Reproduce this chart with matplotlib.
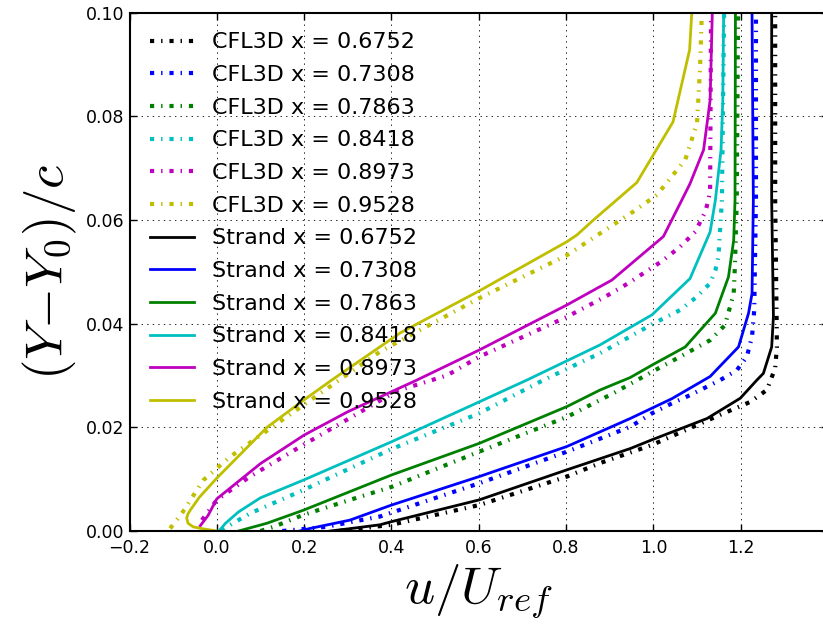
import matplotlib
matplotlib.use("Agg")
import matplotlib.pyplot as plt
import numpy as np

plt.rcParams['mathtext.fontset'] = 'cm'
plt.rcParams['lines.scale_dashes'] = False
plt.rcParams['font.family'] = ['DejaVu Sans']

stations = ['0.6752', '0.7308', '0.7863', '0.8418', '0.8973', '0.9528']
colors = ['k', 'b', 'g', 'c', 'm', 'y']

# CFL3D profiles (u/Uref, (Y-Y0)/c)
cfl_u_6752 = [0.28, 0.40, 0.601, 0.802, 0.878, 0.997, 1.153, 1.222, 1.26, 1.279, 1.283, 1.281, 1.279, 1.279]
cfl_y_6752 = [0.0, 0.0012, 0.005, 0.0105, 0.0131, 0.0166, 0.0224, 0.0249, 0.0272, 0.0314, 0.0355, 0.05, 0.0638, 0.1]
cfl_u_7308 = [0.15, 0.25, 0.374, 0.601, 0.802, 0.947, 0.997, 1.042, 1.084, 1.153, 1.191, 1.214, 1.226, 1.231, 1.235, 1.235]
cfl_y_7308 = [0.0, 0.0008, 0.0028, 0.0092, 0.0153, 0.0201, 0.0227, 0.0246, 0.0262, 0.0291, 0.031, 0.0336, 0.0375, 0.0426, 0.0638, 0.1]
cfl_u_7863 = [0.10, 0.13, 0.198, 0.305, 0.40, 0.601, 0.802, 0.909, 0.997, 1.061, 1.13, 1.164, 1.184, 1.187, 1.191, 1.194]
cfl_y_7863 = [0.0, 0.0008, 0.0031, 0.006, 0.0085, 0.0153, 0.022, 0.0266, 0.0307, 0.0336, 0.0368, 0.0397, 0.0458, 0.0516, 0.0638, 0.1]
cfl_u_8418 = [0.01, 0.023, 0.076, 0.198, 0.40, 0.601, 0.748, 0.878, 1.0, 1.061, 1.10, 1.13, 1.142, 1.149, 1.157, 1.162]
cfl_y_8418 = [0.0, 0.0008, 0.0034, 0.0079, 0.0158, 0.0227, 0.0291, 0.0343, 0.04, 0.0426, 0.0452, 0.0478, 0.0503, 0.0529, 0.0638, 0.1]
cfl_u_8973 = [-0.034, 0.0, 0.076, 0.20, 0.412, 0.527, 0.601, 0.802, 0.89, 0.943, 0.977, 1.019, 1.061, 1.096, 1.119, 1.126, 1.13, 1.132]
cfl_y_8973 = [0.0021, 0.006, 0.0105, 0.0167, 0.027, 0.030, 0.0336, 0.0413, 0.0452, 0.0478, 0.0497, 0.052, 0.0548, 0.0577, 0.0616, 0.0638, 0.0658, 0.1]
cfl_u_9528 = [-0.107, -0.08, -0.031, 0.03, 0.126, 0.27, 0.374, 0.601, 0.802, 0.954, 1.008, 1.073, 1.10, 1.107, 1.111]
cfl_y_9528 = [0.0005, 0.0034, 0.0098, 0.0143, 0.02, 0.0285, 0.0346, 0.0449, 0.0532, 0.0616, 0.0648, 0.0716, 0.0787, 0.0895, 0.1]

# Strand profiles
str_u_6752 = [0.26, 0.30, 0.374, 0.40, 0.601, 0.802, 0.947, 0.997, 1.123, 1.199, 1.237, 1.252, 1.271, 1.275, 1.271, 1.271]
str_y_6752 = [0.0, 0.0004, 0.0012, 0.0018, 0.006, 0.0118, 0.0159, 0.0176, 0.0217, 0.0256, 0.0291, 0.0304, 0.0355, 0.0413, 0.0638, 0.1]
str_u_7308 = [0.19, 0.214, 0.305, 0.40, 0.601, 0.802, 0.947, 1.042, 1.13, 1.195, 1.218, 1.226, 1.229, 1.226]
str_y_7308 = [0.0, 0.0005, 0.0021, 0.005, 0.0105, 0.0163, 0.0217, 0.0255, 0.0298, 0.0355, 0.042, 0.0458, 0.0638, 0.1]
str_u_7863 = [0.05, 0.115, 0.198, 0.40, 0.601, 0.802, 0.878, 0.947, 0.997, 1.073, 1.142, 1.172, 1.184, 1.187, 1.188]
str_y_7863 = [0.0, 0.0015, 0.004, 0.0108, 0.0169, 0.024, 0.0272, 0.0296, 0.032, 0.0355, 0.042, 0.049, 0.0561, 0.0638, 0.1]
str_u_8418 = [0.005, 0.02, 0.05, 0.10, 0.198, 0.40, 0.601, 0.71, 0.878, 0.997, 1.084, 1.13, 1.142, 1.155, 1.159, 1.161]
str_y_8418 = [0.0, 0.0015, 0.0037, 0.0064, 0.0098, 0.0172, 0.0249, 0.0291, 0.0359, 0.0417, 0.0487, 0.0577, 0.0638, 0.0735, 0.083, 0.1]
str_u_8973 = [-0.038, -0.02, 0.0, 0.10, 0.20, 0.30, 0.458, 0.601, 0.802, 0.905, 1.023, 1.065, 1.084, 1.115, 1.13, 1.135]
str_y_8973 = [0.001, 0.003, 0.0062, 0.013, 0.0185, 0.023, 0.0291, 0.0349, 0.0436, 0.0484, 0.0568, 0.0638, 0.067, 0.0735, 0.0831, 0.1]
str_u_9528 = [0.0, -0.03, -0.054, -0.066, -0.069, -0.066, -0.061, -0.04, 0.0, 0.115, 0.20, 0.263, 0.42, 0.601, 0.802, 0.825, 0.863, 0.962, 1.045, 1.083, 1.088]
str_y_9528 = [0.0, 0.0004, 0.0008, 0.0015, 0.0025, 0.0033, 0.004, 0.0065, 0.0102, 0.02, 0.0253, 0.0291, 0.0382, 0.0463, 0.0558, 0.0571, 0.060, 0.0672, 0.0789, 0.0928, 0.1]

cfl_u = [cfl_u_6752, cfl_u_7308, cfl_u_7863, cfl_u_8418, cfl_u_8973, cfl_u_9528]
cfl_y = [cfl_y_6752, cfl_y_7308, cfl_y_7863, cfl_y_8418, cfl_y_8973, cfl_y_9528]
str_u = [str_u_6752, str_u_7308, str_u_7863, str_u_8418, str_u_8973, str_u_9528]
str_y = [str_y_6752, str_y_7308, str_y_7863, str_y_8418, str_y_8973, str_y_9528]

fig = plt.figure(figsize=(8.23, 6.32), dpi=100)
ax = fig.add_axes([129.5 / 823, 101 / 632, (828 - 129.5) / 823, (531 - 12.5) / 632])

for u, y, c, s in zip(cfl_u, cfl_y, colors, stations):
    ax.plot(u, y, color=c, linestyle=(0, (3, 5, 1, 5)), linewidth=3, label='CFL3D x = ' + s)
for u, y, c, s in zip(str_u, str_y, colors, stations):
    ax.plot(u, y, color=c, linestyle='-', linewidth=2, label='Strand x = ' + s)

ax.set_xlim(-0.2, 1.4)
ax.set_ylim(0.0, 0.1)
ax.set_xticks(np.arange(-0.2, 1.21, 0.2))
ax.set_yticks(np.arange(0.0, 0.101, 0.02))
ax.grid(True, color='k', linestyle=(0, (1, 3)), linewidth=0.6)
ax.tick_params(direction='in', top=True, right=True, length=5, width=1, labelsize=12.5)
ax.tick_params(axis='x', pad=6)
for sp in ax.spines.values():
    sp.set_linewidth(1.5)

ax.set_xlabel(r'$u/U_{ref}$', fontsize=38, labelpad=4)
ax.set_ylabel(r'$(Y{-}Y_0)/c$', fontsize=38, labelpad=5)

ax.legend(loc='upper left', frameon=False, fontsize=16, labelspacing=0.57,
          handlelength=2.0, handletextpad=0.8, borderaxespad=0.5)

fig.savefig('out.png', dpi=100)
